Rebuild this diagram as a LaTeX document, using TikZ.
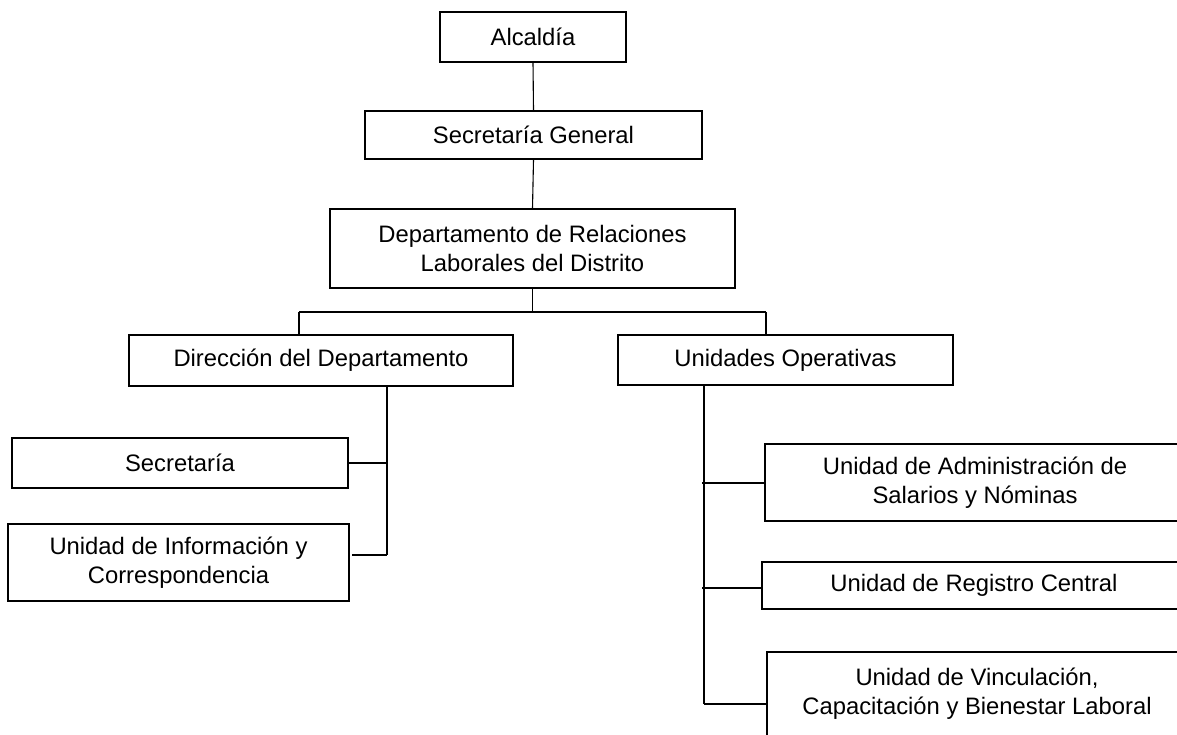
\documentclass[tikz,border=0pt]{standalone}
\usepackage{fontspec}
\setmainfont{Liberation Sans}
\begin{document}
\begin{tikzpicture}[x=1pt,y=-1pt,
  box/.style={draw=black,line width=1.3pt,rectangle,inner sep=0pt,align=center,
    font=\fontsize{23.8}{29}\selectfont},
  link/.style={draw=black,line width=1.1pt}]
\useasboundingbox (0,0) rectangle (1177,734);
\clip (0,0) rectangle (1177,734);
\node[box,minimum width=186pt,minimum height=50pt] (alc) at (533,37) {Alcaldía};
\node[box,minimum width=337pt,minimum height=48pt] (sg) at (533.5,135) {Secretaría General};
\node[box,minimum width=405pt,minimum height=79pt] (dep) at (532.5,248.5) {Departamento de Relaciones\\Laborales del Distrito};
\node[box,minimum width=384pt,minimum height=51pt] (dir) at (321,360.5) {Dirección del Departamento};
\node[box,minimum width=335pt,minimum height=50pt] (uo) at (785.5,360) {Unidades Operativas};
\node[box,minimum width=336pt,minimum height=50pt] (sec) at (180,463) {Secretaría};
\node[box,minimum width=341pt,minimum height=77pt] (uic) at (178.5,562.5) {Unidad de Información y\\Correspondencia};
\node[box,minimum width=420pt,minimum height=77pt] (u1) at (975,482.5) {Unidad de Administración de\\Salarios y Nóminas};
\node[box,minimum width=424pt,minimum height=47pt] (u2) at (974,585.5) {Unidad de Registro Central};
\node[box,minimum width=420pt,minimum height=84pt] (u3) at (977,694) {Unidad de Vinculación,\\Capacitación y Bienestar Laboral};
% top chain
\draw[link] (alc.south) -- (sg.north);
\draw[link] (sg.south) -- (dep.north);
% bus
\coordinate (busL) at (299,312);
\coordinate (busR) at (766,312);
\draw[link] (dep.south) -- (dep.south |- busL);
\draw[link] (busL) -- (busR);
\draw[link] (busL) -- (busL |- dir.north);
\draw[link] (busR) -- (busR |- uo.north);
% left branch
\coordinate (dl) at (387,555);
\draw[link] (dl |- dir.south) -- (dl);
\draw[link] (sec.east) -- (dl |- sec.east);
\coordinate (uicc) at (352,555);
\draw[link] (uicc) -- (dl);
% right branch
\coordinate (rb) at (704,704);
\draw[link] (rb |- uo.south) -- (rb);
\coordinate (s1) at (702,483);
\coordinate (s2) at (702,588);
\draw[link] (s1) -- (u1.west |- s1);
\draw[link] (s2) -- (u2.west |- s2);
\draw[link] (rb) -- (u3.west |- rb);
\end{tikzpicture}
\end{document}
